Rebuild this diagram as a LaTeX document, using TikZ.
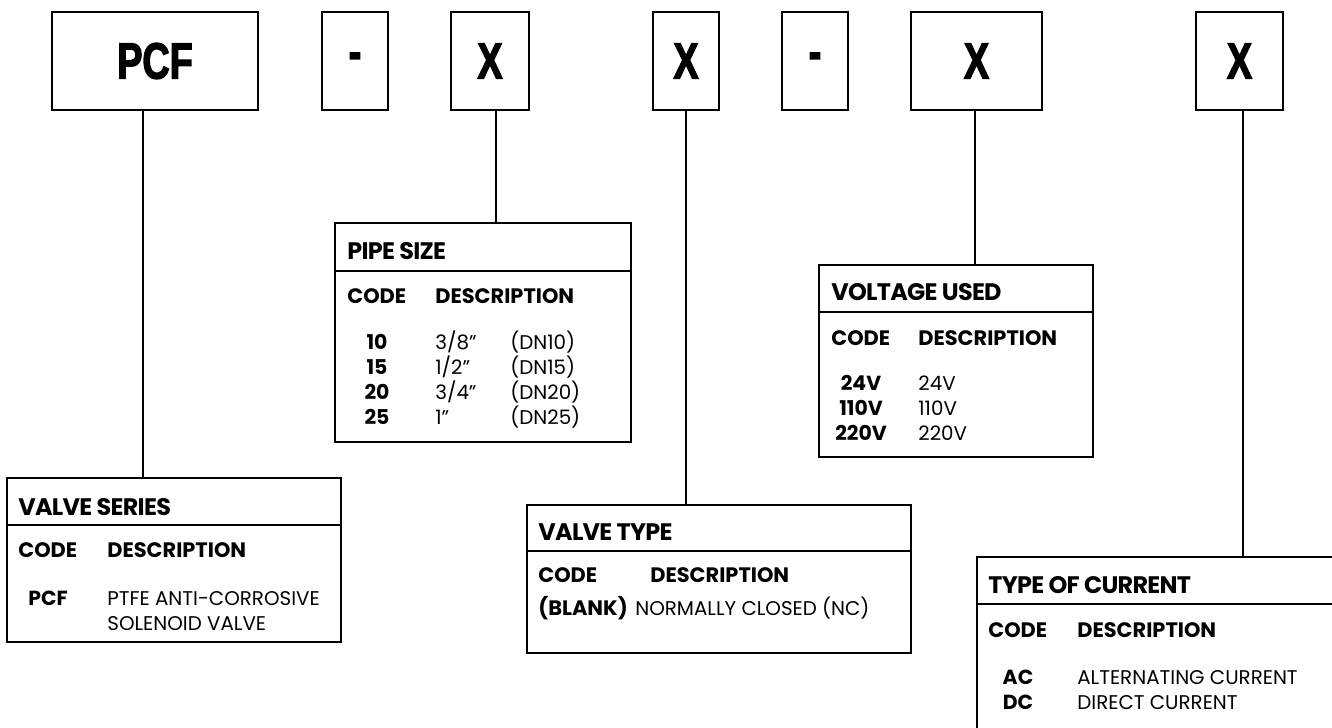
\documentclass[tikz,border=0pt]{standalone}
\usepackage{fontspec}
\setmainfont{Poppins}
\newfontfamily\boxfont[FakeStretch=0.74,FakeBold=2.5]{Liberation Sans Bold}
\tikzset{
  codebox/.style={draw, line width=1.2pt, minimum height=1.96cm, inner sep=0pt,
    font=\boxfont\fontsize{29}{30}\selectfont},
  tablebox/.style={draw, line width=1.1pt, inner sep=0pt},
  tabtitle/.style={anchor=base west, inner sep=0pt,
    font=\bfseries\addfontfeatures{LetterSpace=-3}\fontsize{13.6}{15}\selectfont},
  colhead/.style={anchor=base west, inner sep=0pt, font=\bfseries\fontsize{11.9}{13}\selectfont},
  codecell/.style={anchor=base, inner sep=0pt, font=\bfseries\fontsize{11.6}{13}\selectfont},
  desccell/.style={anchor=base west, inner sep=0pt, font=\fontsize{11.3}{13}\selectfont},
  tap/.style={line width=1.1pt},
}
\begin{document}
\begin{tikzpicture}[x=0.02cm,y=-0.02cm]
\useasboundingbox (0,0) rectangle (1332,727);
% part number boxes
\node[codebox, minimum width=4.12cm] (pcf) at (155,61) {PCF};
\node[codebox, minimum width=1.32cm] (dashA) at (355,61) {-};
\node[codebox, minimum width=1.56cm] (sizeX) at (490,61) {X};
\node[codebox, minimum width=1.32cm] (typeX) at (686,61) {X};
\node[codebox, minimum width=1.32cm] (dashB) at (815,61) {-};
\node[codebox, minimum width=2.62cm] (voltX) at (976.5,61) {X};
\node[codebox, minimum width=1.74cm] (currX) at (1239.5,61) {X};
% tables
\node[tablebox, minimum width=6.68cm, minimum height=3.28cm] (series) at (174,560) {};
\node[tablebox, minimum width=5.92cm, minimum height=4.38cm] (pipe) at (483,332.5) {};
\node[tablebox, minimum width=7.68cm, minimum height=2.96cm] (vtype) at (719,579) {};
\node[tablebox, minimum width=5.48cm, minimum height=3.84cm] (volt) at (956,361) {};
\node[tablebox, minimum width=7.36cm, minimum height=3.66cm] (curr) at (1161,648.5) {};
\draw[tap] (series.west |- 0,525) -- (series.east |- 0,525);
\draw[tap] (pipe.west |- 0,271) -- (pipe.east |- 0,271);
\draw[tap] (vtype.west |- 0,551) -- (vtype.east |- 0,551);
\draw[tap] (volt.west |- 0,312) -- (volt.east |- 0,312);
\draw[tap] (curr.west |- 0,604) -- (curr.east |- 0,604);
% connectors
\coordinate (tapA) at (143,0);
\coordinate (tapB) at (496,0);
\coordinate (tapC) at (686,0);
\coordinate (tapD) at (975,0);
\coordinate (tapE) at (1243,0);
\draw[tap] (pcf.south -| tapA) -- (series.north -| tapA);
\draw[tap] (sizeX.south -| tapB) -- (pipe.north -| tapB);
\draw[tap] (typeX.south -| tapC) -- (vtype.north -| tapC);
\draw[tap] (voltX.south -| tapD) -- (volt.north -| tapD);
\draw[tap] (currX.south -| tapE) -- (curr.north -| tapE);
% valve series
\node[tabtitle] (sT) at (18,515) {VALVE SERIES};
\node[colhead] (sC) at (18,557) {CODE};
\node[colhead] (sD) at (107,557) {DESCRIPTION};
\node[codecell] (sc1) at (48,605) {PCF};
\node[desccell] (sd1) at (107,605) {PTFE ANTI-CORROSIVE};
\node[desccell] (sd2) at (107,630) {SOLENOID VALVE};
% pipe size
\node[tabtitle] (pT) at (347,259) {PIPE SIZE};
\node[colhead] (pC) at (347,303) {CODE};
\node[colhead] (pD) at (435,303) {DESCRIPTION};
\foreach \c/\d/\n [count=\i] in {10/3\slash8”/DN10, 15/1\slash2”/DN15, 20/3\slash4”/DN20, 25/1”/DN25}{
  \node[codecell] (pc\i) at (377,324+25*\i) {\c};
  \node[desccell] (pd\i) at (435,324+25*\i) {\d};
  \node[desccell] (pn\i) at (510,324+25*\i) {(\n)};
}
% valve type
\node[tabtitle] (tT) at (538,540) {VALVE TYPE};
\node[colhead] (tC) at (538,582) {CODE};
\node[colhead] (tD) at (650,582) {DESCRIPTION};
\node[colhead] (tc1) at (538,615) {(BLANK)};
\node[desccell] (td1) at (635,615) {NORMALLY CLOSED (NC)};
% voltage used
\node[tabtitle] (vT) at (831,300) {VOLTAGE USED};
\node[colhead] (vC) at (831,345) {CODE};
\node[colhead] (vD) at (918,345) {DESCRIPTION};
\foreach \v [count=\i] in {24V, 110V, 220V}{
  \node[codecell] (vc\i) at (861,365+25*\i) {\v};
  \node[desccell] (vd\i) at (918,365+25*\i) {\v};
}
% type of current
\node[tabtitle] (cT) at (988,593) {TYPE OF CURRENT};
\node[colhead] (cC) at (988,637) {CODE};
\node[colhead] (cD) at (1077,637) {DESCRIPTION};
\node[codecell] (cc1) at (1018,684) {AC};
\node[desccell] (cd1) at (1077,684) {ALTERNATING CURRENT};
\node[codecell] (cc2) at (1018,709) {DC};
\node[desccell] (cd2) at (1077,709) {DIRECT CURRENT};
\end{tikzpicture}
\end{document}
